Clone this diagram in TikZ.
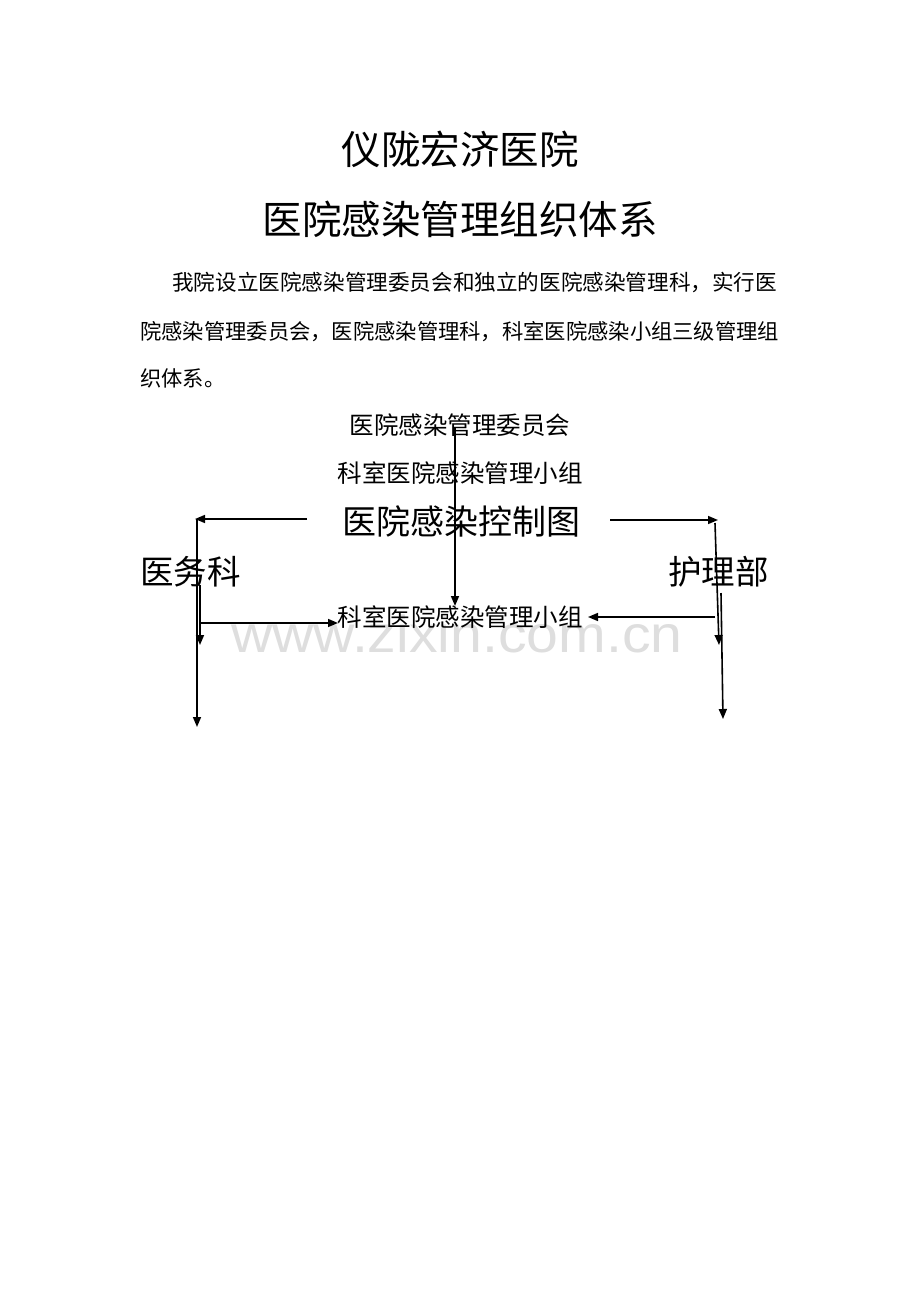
\documentclass[tikz,border=0pt]{standalone}
\usepackage{fontspec}
\newfontfamily\cjk{Noto Sans CJK SC}
\newfontfamily\wmfont{Liberation Sans}
\usetikzlibrary{arrows.meta}
\tikzset{
  txt/.style={inner sep=0pt, font=\cjk\fontsize{#1}{#1}\selectfont},
  arr/.style={line width=1.6pt, -{Triangle[length=10pt,width=8pt]}},
  plain/.style={line width=1.6pt}
}
\begin{document}
\begin{tikzpicture}[x=1pt,y=-1pt]
\useasboundingbox[fill=white] (0,0) rectangle (920,1302);
% watermark
\node (wm) [anchor=base, inner sep=0pt, xscale=1.1, text=black!13, font=\wmfont\fontsize{52}{52}\selectfont] at (457,652) {www.zixin.com.cn};
% titles
\node (t1) [txt=39.5, anchor=base] at (460,164) {仪陇宏济医院};
\node (t2) [txt=39.5, anchor=base] at (460,234) {医院感染管理组织体系};
% paragraph
\node (p1) [txt=21.6, anchor=base west] at (172,290) {我院设立医院感染管理委员会和独立的医院感染管理科，实行医};
\node (p2) [txt=21.3, anchor=base west] at (140,339) {院感染管理委员会，医院感染管理科，科室医院感染小组三级管理组};
\node (p3) [txt=21.3, anchor=base west] at (140,386) {织体系。};
% diagram texts
\node (wyh) [txt=24.5, anchor=base] at (460,434) {医院感染管理委员会};
\node (xz1) [txt=24.5, anchor=base] at (460,482) {科室医院感染管理小组};
\node (kzt) [txt=34, anchor=base] at (461,534) {医院感染控制图};
\node (ywk) [txt=33.5, anchor=base west] at (140,584) {医务科};
\node (hlb) [txt=33.5, anchor=base west] at (668,584) {护理部};
\node (xz2) [txt=24.5, anchor=base] at (460,626) {科室医院感染管理小组};
% connector end points
\coordinate (c0) at (455,428);
\coordinate (c1) at (455,606);
\coordinate (l0) at (307,519);
\coordinate (l1) at (195,519);
\coordinate (r0) at (610,520);
\coordinate (r1) at (718,520);
\coordinate (la0) at (197,519);
\coordinate (la1) at (197,727);
\coordinate (lb0) at (200,585);
\coordinate (lb1) at (200,645);
\coordinate (lh0) at (200,623);
\coordinate (lh1) at (338,623);
\coordinate (ra0) at (715,523);
\coordinate (ra1) at (719,645);
\coordinate (rb0) at (721,593);
\coordinate (rb1) at (723,719);
\coordinate (rh0) at (715,617);
\coordinate (rh1) at (588,617);
% connectors
\draw[arr] (c0) -- (c1);
\draw[arr] (l0) -- (l1);
\draw[arr] (r0) -- (r1);
\draw[arr] (la0) -- (la1);
\draw[arr] (lb0) -- (lb1);
\draw[arr] (lh0) -- (lh1);
\draw[arr] (ra0) -- (ra1);
\draw[arr] (rb0) -- (rb1);
\draw[arr] (rh0) -- (rh1);
\end{tikzpicture}
\end{document}
